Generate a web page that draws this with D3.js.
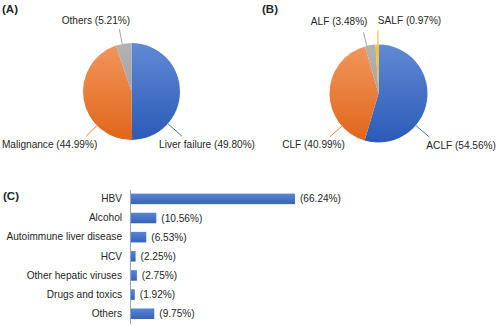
<!DOCTYPE html>
<html>
<head>
<meta charset="utf-8">
<script src="https://cdn.jsdelivr.net/npm/d3@7"></script>
<style>
  body { margin: 0; background: #fff; }
  text { font-family: "Liberation Sans", Arial, sans-serif; fill: #262626; }
</style>
</head>
<body>
<div id="chart"></div>
<script>
// Data
var pieALabels = ["Liver failure", "Malignance", "Others"];
var pieAValues = [49.80, 44.99, 5.21];

var pieBLabels = ["ACLF", "CLF", "ALF", "SALF"];
var pieBValues = [54.56, 40.99, 3.48, 0.97];

var barLabels = ["HBV", "Alcohol", "Autoimmune liver disease", "HCV", "Other hepatic viruses", "Drugs and toxics", "Others"];
var barValues = [66.24, 10.56, 6.53, 2.25, 2.75, 1.92, 9.75];

var svgWidth = 500;
var svgHeight = 326;
var fontSize = 10.1;

var svg = d3.select("#chart")
  .append("svg")
  .attr("width", svgWidth)
  .attr("height", svgHeight);

var defs = svg.append("defs");

// Excel-like gradients (lighter top, darker bottom)
function addGradient(id, top, bottom, y1, y2, units) {
  var g = defs.append("linearGradient")
    .attr("id", id)
    .attr("gradientUnits", units || "userSpaceOnUse")
    .attr("x1", 0).attr("x2", 0)
    .attr("y1", y1).attr("y2", y2);
  g.append("stop").attr("offset", "0%").attr("stop-color", top);
  g.append("stop").attr("offset", "100%").attr("stop-color", bottom);
}

var sliceColors = ["#4472C4", "#ED7D31", "#A5A5A5", "#FFC000"];
var sliceTops = ["#6189d4", "#f2965d", "#b2b2b2", "#ffc61a"];
var sliceBottoms = ["#2b5ab7", "#e0661a", "#989898", "#f5b800"];

// Panel tags
svg.append("text").attr("x", 2).attr("y", 13).style("font-weight", "bold").style("font-size", "11.5px").text("(A)");
svg.append("text").attr("x", 262).attr("y", 13).style("font-weight", "bold").style("font-size", "11.5px").text("(B)");
svg.append("text").attr("x", 3).attr("y", 200).style("font-weight", "bold").style("font-size", "11.5px").text("(C)");

// Draw a pie with outside labels + leader lines
function drawPie(prefix, labels, values, cx, cy, r, layout) {
  labels.forEach(function(l, i) {
    addGradient(prefix + i, sliceTops[i], sliceBottoms[i], -r, r);
  });

  var pie = d3.pie().sort(null).value(function(d) { return d; });
  var arcs = pie(values);
  var arc = d3.arc().innerRadius(0).outerRadius(r);

  var g = svg.append("g").attr("transform", "translate(" + cx + "," + cy + ")");

  g.selectAll("path")
    .data(arcs)
    .enter()
    .append("path")
    .attr("d", arc)
    .attr("fill", function(d, i) { return "url(#" + prefix + i + ")"; });

  // leader lines
  arcs.forEach(function(a, i) {
    var L = layout[i];
    var ang = L.angle * Math.PI / 180;
    var x1 = Math.sin(ang) * r, y1 = -Math.cos(ang) * r;
    var x2 = Math.sin(ang) * (r + L.len), y2 = -Math.cos(ang) * (r + L.len);
    g.append("line")
      .attr("x1", x1).attr("y1", y1)
      .attr("x2", x2).attr("y2", y2)
      .attr("stroke", sliceColors[i])
      .attr("stroke-width", 1);
    g.append("text")
      .attr("x", x2 + L.dx)
      .attr("y", y2 + L.dy)
      .attr("text-anchor", L.anchor)
      .style("font-size", fontSize + "px")
      .text(labels[i] + " (" + values[i].toFixed(2) + "%)");
  });
}

drawPie("pa", pieALabels, pieAValues, 131.5, 91.5, 48.5, [
  { angle: 131.5, len: 19, dx: -23, dy: 11.5, anchor: "start" },
  { angle: 225.4, len: 15, dx: 11, dy: 12, anchor: "end" },
  { angle: 349, len: 15, dx: -23.5, dy: -5, anchor: "middle" }
]);

drawPie("pb", pieBLabels, pieBValues, 378.5, 93.5, 49, [
  { angle: 130.6, len: 18, dx: -3, dy: 11.5, anchor: "start" },
  { angle: 228.3, len: 16, dx: 15, dy: 11.5, anchor: "end" },
  { angle: 346.2, len: 14, dx: 4, dy: -7, anchor: "end" },
  { angle: 359.4, len: 14, dx: 0, dy: -7, anchor: "start" }
]);

// Bar chart (C)
var xScale = d3.scaleLinear()
  .domain([0, 70])
  .range([130, 130 + 70 * 2.491]);

var yScale = d3.scaleBand()
  .domain(barLabels)
  .range([189.3, 323.3])
  .paddingInner(0.45)
  .paddingOuter(0.225);

addGradient("barGrad", "#5a85d3", "#3563b8", 0, 1, "objectBoundingBox");

var barGroup = svg.append("g");

barGroup.selectAll("rect")
  .data(barValues)
  .enter()
  .append("rect")
  .attr("x", xScale(0))
  .attr("y", function(d, i) { return yScale(barLabels[i]); })
  .attr("width", function(d) { return xScale(d) - xScale(0); })
  .attr("height", yScale.bandwidth())
  .attr("fill", "url(#barGrad)");

// value labels
barGroup.selectAll(".val")
  .data(barValues)
  .enter()
  .append("text")
  .attr("class", "val")
  .attr("x", function(d) { return xScale(d) + 5; })
  .attr("y", function(d, i) { return yScale(barLabels[i]) + yScale.bandwidth() / 2; })
  .attr("dy", "0.35em")
  .style("font-size", fontSize + "px")
  .text(function(d) { return "(" + d.toFixed(2) + "%)"; });

// category axis
var leftAxis = d3.axisLeft(yScale).tickSize(0).tickPadding(8);
var axisG = svg.append("g")
  .attr("transform", "translate(" + xScale(0) + ",0)")
  .call(leftAxis);
axisG.select(".domain").attr("stroke", "#8aa3cf").attr("stroke-width", 1);
axisG.selectAll("text")
  .style("font-size", fontSize + "px")
  .style("font-family", "'Liberation Sans', Arial, sans-serif")
  .attr("fill", "#262626");
</script>
</body>
</html>
